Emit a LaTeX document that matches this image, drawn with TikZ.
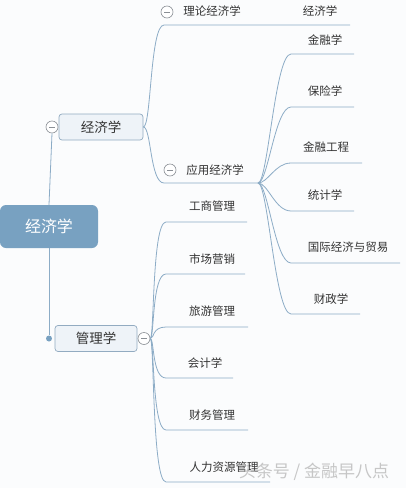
\documentclass[tikz,border=0pt]{standalone}
\usepackage{fontspec}
\usepackage{tikz}
\usetikzlibrary{calc,positioning}
\newfontfamily\cjk{Noto Sans CJK SC}
\definecolor{rootblue}{HTML}{78A1C1}
\definecolor{linkblue}{HTML}{8CACC6}
\definecolor{boxfill}{HTML}{EEF3F8}
\definecolor{boxline}{HTML}{92ABC1}
\definecolor{foldgray}{HTML}{8A8F95}
\definecolor{inkgray}{HTML}{333333}
\definecolor{paper}{HTML}{FBFCFD}

\begin{document}
\begin{tikzpicture}[
  x=1pt, y=-1pt,
  rootbox/.style={rectangle, rounded corners=6pt, fill=rootblue, text=white,
    font=\cjk\fontsize{16}{18}\selectfont, minimum width=98pt, minimum height=43pt},
  subbox/.style={rectangle, rounded corners=3pt, draw=boxline, fill=boxfill, text=inkgray,
    font=\cjk\fontsize{13.5}{15}\selectfont, minimum height=26pt, line width=0.7pt},
  leaf/.style={text=inkgray, font=\cjk\fontsize{11.5}{13}\selectfont, inner sep=1pt},
  fold/.style={circle, draw=foldgray, fill=white, minimum size=12pt, inner sep=0pt, line width=0.6pt,
    path picture={\draw[foldgray, line width=0.6pt]
      ($(path picture bounding box.west)+(3pt,0pt)$) -- ($(path picture bounding box.east)+(-3pt,0pt)$);}},
  knob/.style={circle, fill=rootblue, minimum size=6pt, inner sep=0pt},
  link/.style={draw=linkblue, line width=0.8pt},
  twig/.style 2 args={to path={.. controls ($(\tikztostart)+(#1,0)$) and ($(\tikztotarget)+(-#2,0)$) .. (\tikztotarget)}}
]
  \fill[paper] (0,0) rectangle (406,488);
  \useasboundingbox (0,0) rectangle (406,488);

  % central topic and the two main branches
  \node[rootbox] (root) at (49,226.5) {经济学};
  \node[subbox, minimum width=84pt] (econ) at (101,127) {经济学};
  \node[subbox, minimum width=82pt] (mgmt) at (96,338.5) {管理学};
  \node[fold] (econfold) at (52,127) {};
  \node[knob] (mgmtdot) at (49,338.5) {};
  \node[fold] (mgmtfold) at (144,338.5) {};
  \draw[link] (root.north) -- (econfold.south);
  \draw[link] (root.south) -- (mgmtdot.north);

  % economics side
  \node[leaf] (theory) at (212,11) {理论经济学};
  \node[leaf] (applied) at (215,170) {应用经济学};
  \node[fold] (theofold) at (167,12) {};
  \node[fold] (applfold) at (170,170) {};
  \node[leaf] (pure) at (320,11) {经济学};
  \coordinate (theory-l) at (164,25);
  \coordinate (theory-r) at (350,25);
  \coordinate (applied-l) at (164,183);
  \coordinate (applied-r) at (258,183);
  \draw[link] (econ.east) to[twig={8}{14}] (theory-l) -- (theory-r);
  \draw[link] (econ.east) to[twig={8}{14}] (applied-l) -- (applied-r);

  \node[leaf] (finance) at (325,40) {金融学};
  \node[leaf] (insure) at (325,91) {保险学};
  \node[leaf] (fineng) at (326,147) {金融工程};
  \node[leaf] (stats) at (325,195) {统计学};
  \node[leaf] (trade) at (348,247) {国际经济与贸易};
  \node[leaf] (fiscal) at (331,299) {财政学};
  \foreach \n/\y/\e in {finance/54/354, insure/107/354, fineng/163/362,
                        stats/211/354, trade/263/400, fiscal/314/360}{
    \coordinate (\n-l) at (291,\y);
    \coordinate (\n-r) at (\e,\y);
    \draw[link] (applied-r) to[twig={10}{16}] (\n-l) -- (\n-r);
  }

  % management side
  \node[leaf] (business) at (212,206) {工商管理};
  \node[leaf] (market) at (212,259) {市场营销};
  \node[leaf] (tourism) at (212,311) {旅游管理};
  \node[leaf] (account) at (205,363) {会计学};
  \node[leaf] (fimgmt) at (212,415) {财务管理};
  \node[leaf] (hr) at (224,467) {人力资源管理};
  \foreach \n/\y/\e in {business/222/247, market/274/245, tourism/327/248,
                        account/378/233, fimgmt/430/248, hr/482/270}{
    \coordinate (\n-l) at (166,\y);
    \coordinate (\n-r) at (\e,\y);
    \draw[link] (mgmtfold.east) to[twig={4}{14}] (\n-l) -- (\n-r);
  }

  % watermark
  \node[text=gray!55, opacity=0.8, font=\cjk\fontsize{17}{19}\selectfont] (mark) at (314,472) {头条号 / 金融早八点};
\end{tikzpicture}
\end{document}
